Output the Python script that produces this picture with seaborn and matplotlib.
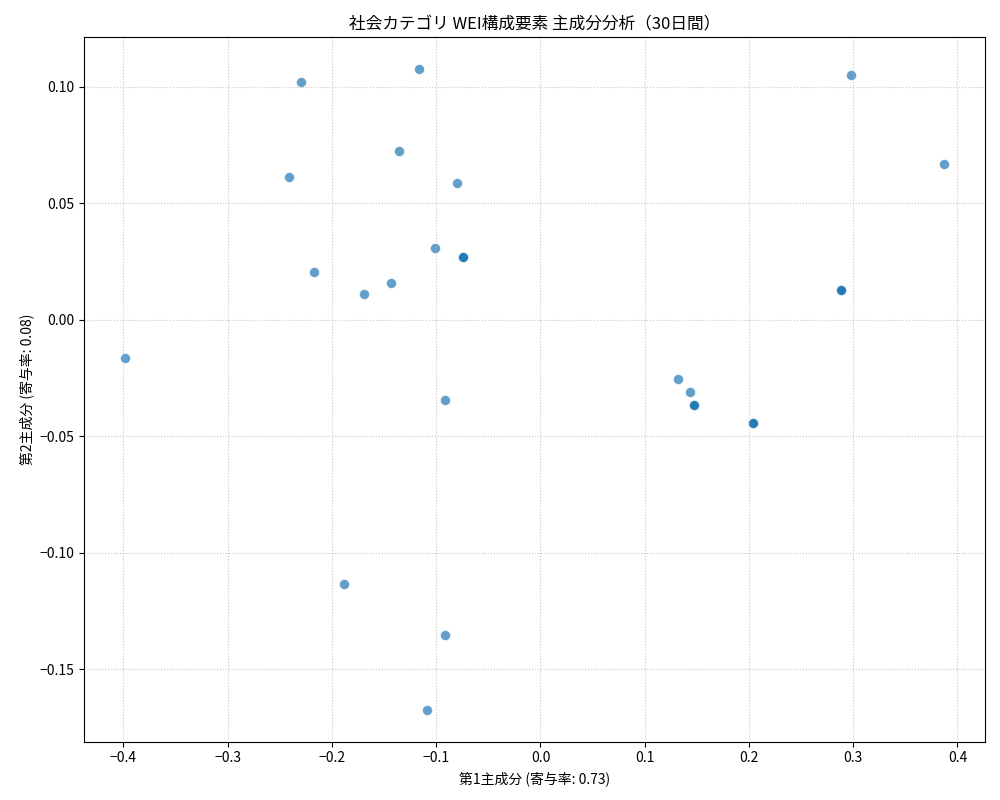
import numpy as np
import pandas as pd
import matplotlib
matplotlib.use("Agg")
import matplotlib.pyplot as plt
import seaborn as sns

# PCA scores (30 days, some days overlap)
pc1 = [-0.3985, -0.2295, -0.2409, -0.2170, -0.1690, -0.1431, -0.1354, -0.1163,
       -0.1010, -0.0799, -0.0741, -0.0741, -0.0741, -0.0914, -0.1882, -0.0914,
       -0.1086, 0.1320, 0.1435, 0.1468, 0.1468, 0.1468, 0.2039, 0.2039,
       0.2039, 0.2883, 0.2883, 0.2883, 0.2979, 0.3871]
pc2 = [-0.0164, 0.1019, 0.0614, 0.0206, 0.0112, 0.0159, 0.0725, 0.1077,
       0.0309, 0.0588, 0.0270, 0.0270, 0.0270, -0.0343, -0.1137, -0.1355,
       -0.1674, -0.0253, -0.0309, -0.0365, -0.0365, -0.0365, -0.0442, -0.0442,
       -0.0442, 0.0129, 0.0129, 0.0129, 0.1052, 0.0670]
explained = [0.73, 0.08]

df = pd.DataFrame({"PC1": pc1, "PC2": pc2})

plt.rcParams['font.family'] = ['Noto Sans CJK JP', 'DejaVu Sans']
plt.rcParams['axes.unicode_minus'] = True

fig, ax = plt.subplots(figsize=(10, 8), dpi=100)
sns.scatterplot(data=df, x="PC1", y="PC2", s=52, alpha=0.7, ax=ax)
ax.set_title("社会カテゴリ WEI構成要素 主成分分析（30日間）")
ax.set_xlabel(f"第1主成分 (寄与率: {explained[0]:.2f})")
ax.set_ylabel(f"第2主成分 (寄与率: {explained[1]:.2f})")
ax.grid(True, linestyle=':', alpha=0.7)
fig.subplots_adjust(left=0.084, right=0.985, top=0.954, bottom=0.073)
plt.savefig("out.png")
